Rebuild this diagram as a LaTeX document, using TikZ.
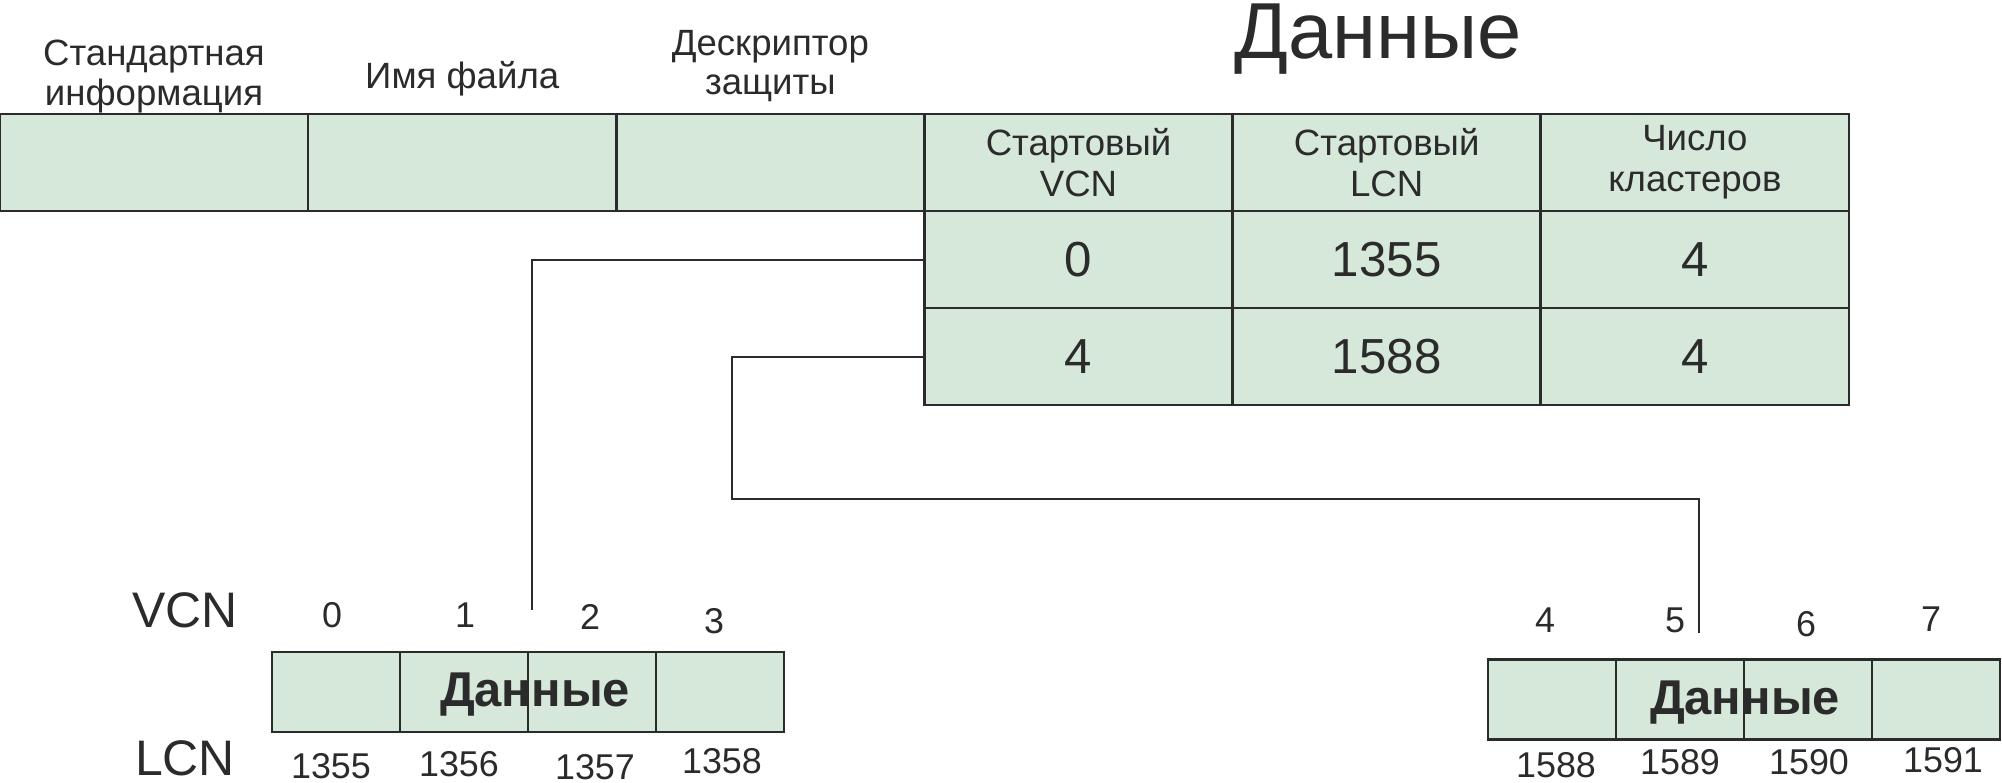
\documentclass[tikz,border=0pt]{standalone}
\usepackage{fontspec}
\setmainfont{Liberation Sans}
\usetikzlibrary{positioning}
\definecolor{cellgreen}{HTML}{D6E8D9}
\definecolor{ink}{HTML}{2B2B2B}
\begin{document}
\begin{tikzpicture}[x=0.01cm,y=-0.01cm,
  cell/.style={draw=ink,fill=cellgreen,line width=0.75pt,inner sep=0pt,outer sep=0pt,
    minimum width=3.08cm,minimum height=0.97cm,align=center,text=ink,
    font=\fontsize{10.4}{11.6}\selectfont},
  numcell/.style={cell,font=\fontsize{14}{14}\selectfont},
  clus/.style={draw=ink,fill=cellgreen,line width=0.6pt,inner sep=0pt,outer sep=0pt,
    minimum width=1.28cm,minimum height=0.8cm},
  hdrtext/.style={text=ink,align=center,inner sep=0pt,font=\fontsize{10.4}{11.3}\selectfont},
  titletext/.style={text=ink,anchor=base,inner sep=0pt,font=\fontsize{22.6}{22.6}\selectfont},
  bolddata/.style={text=ink,anchor=base,inner sep=0pt,font=\bfseries\fontsize{13.9}{13.9}\selectfont},
  axislbl/.style={text=ink,anchor=base,inner sep=0pt,font=\fontsize{14.2}{14.2}\selectfont},
  idxlbl/.style={text=ink,anchor=base,inner sep=0pt,font=\fontsize{10.2}{10.2}\selectfont},
  link/.style={draw=ink,line width=0.55pt}]
\useasboundingbox (0,0) rectangle (2002,783);

% attribute row of the record
\node[cell] (std) at (154,162.5) {};
\node[cell,right=0pt of std] (fname) {};
\node[cell,right=0pt of fname] (secd) {};
\node[cell,right=0pt of secd] (hvcn) {Стартовый\\VCN};
\node[cell,right=0pt of hvcn] (hlcn) {Стартовый\\LCN};
\node[cell,right=0pt of hlcn] (hcnt) {Число\\кластеров};

% run list
\node[numcell,below=0pt of hvcn] (vcna) {0};
\node[numcell,right=0pt of vcna] (lcna) {1355};
\node[numcell,right=0pt of lcna] (cnta) {4};
\node[numcell,below=0pt of vcna] (vcnb) {4};
\node[numcell,right=0pt of vcnb] (lcnb) {1588};
\node[numcell,right=0pt of lcnb] (cntb) {4};

\node[hdrtext,above=0pt of std] (stdlbl) {Стандартная\\информация};
\node[hdrtext,above=0.17cm of fname] (fnamelbl) {Имя файла};
\node[hdrtext,above=0.11cm of secd] (secdlbl) {Дескриптор\\защиты};
\node[titletext] (datalbl) at (1378,59) {Данные};

% clusters on disk
\foreach \i in {0,...,3} {
  \node[clus] (la\i) at (336+128*\i,692) {};
  \node[clus] (ra\i) at (1552+128*\i,699.5) {};
}
\node[bolddata] (ldata) at (535,707) {Данные};
\node[bolddata] (rdata) at (1745,715) {Данные};

\node[axislbl] (vcnlbl) at (185,628) {VCN};
\node[axislbl] (lcnlbl) at (185,776) {LCN};
\foreach \n/\x/\y/\t in {v0/332/628/0, v1/465/628/1, v2/590/630/2, v3/714/634/3,
    v4/1545/633/4, v5/1675/633/5, v6/1806/637/6, v7/1931/632/7,
    l0/331/779/1355, l1/459/777/1356, l2/595/780/1357, l3/722/774/1358,
    l4/1556/778/1588, l5/1680/775/1589, l6/1809/775/1590, l7/1943/773/1591}
  \node[idxlbl] (\n) at (\x,\y) {\t};

% links from the runs to the clusters
\coordinate (lend) at (532,610);
\coordinate (rbend) at (732,499);
\coordinate (rend) at (1699,633);
\draw[link] (vcna.west) -| (lend);
\draw[link] (vcnb.west) -| (rbend) -| (rend);
\end{tikzpicture}
\end{document}
